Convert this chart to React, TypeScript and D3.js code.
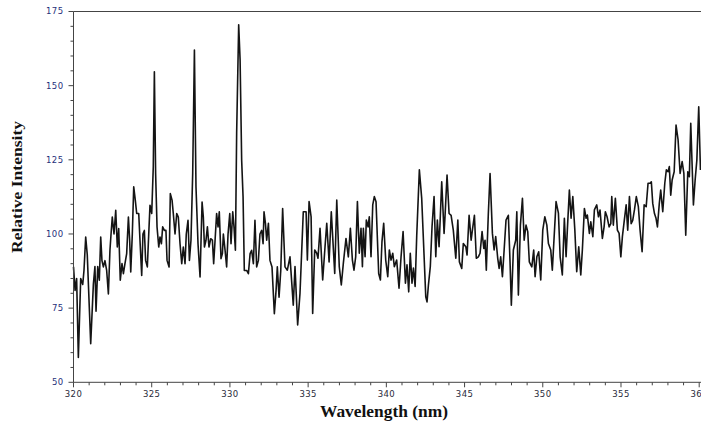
import React from "react";
import * as d3 from "d3";

const wavelengths: number[] = [
  320.0, 320.1, 320.2, 320.31, 320.46, 320.59, 320.67, 320.78, 320.88, 321.1,
  321.27, 321.37, 321.44, 321.55, 321.65, 321.74, 321.82, 321.91, 322.01, 322.12,
  322.23, 322.33, 322.4, 322.48, 322.59, 322.7, 322.8, 322.89, 322.99, 323.1,
  323.19, 323.29, 323.4, 323.51, 323.59, 323.66, 323.76, 323.85, 323.95, 324.04,
  324.17, 324.25, 324.36, 324.44, 324.53, 324.61, 324.72, 324.81, 324.89, 325.0,
  325.1, 325.17, 325.25, 325.34, 325.45, 325.53, 325.62, 325.7, 325.81, 325.91,
  325.98, 326.11, 326.19, 326.3, 326.38, 326.49, 326.6, 326.7, 326.81, 326.92,
  327.02, 327.13, 327.21, 327.32, 327.41, 327.51, 327.62, 327.73, 327.83, 327.96,
  328.09, 328.22, 328.3, 328.37, 328.47, 328.56, 328.66, 328.77, 328.88, 328.96,
  329.05, 329.15, 329.24, 329.32, 329.43, 329.52, 329.58, 329.69, 329.79, 329.88,
  329.99, 330.07, 330.18, 330.26, 330.35, 330.43, 330.56, 330.65, 330.75, 330.84,
  330.92, 331.07, 331.18, 331.29, 331.39, 331.5, 331.6, 331.71, 331.82, 331.92,
  332.03, 332.12, 332.18, 332.27, 332.35, 332.46, 332.56, 332.69, 332.84, 332.95,
  333.03, 333.14, 333.25, 333.37, 333.52, 333.67, 333.84, 334.05, 334.16, 334.33,
  334.48, 334.69, 334.87, 334.95, 335.06, 335.19, 335.29, 335.42, 335.55, 335.63,
  335.76, 335.93, 336.08, 336.19, 336.34, 336.48, 336.7, 336.83, 336.99, 337.12,
  337.25, 337.42, 337.57, 337.7, 337.83, 337.93, 338.04, 338.15, 338.27, 338.38,
  338.47, 338.53, 338.64, 338.72, 338.83, 338.91, 339.02, 339.13, 339.23, 339.34,
  339.51, 339.62, 339.72, 339.83, 339.96, 340.09, 340.19, 340.3, 340.41, 340.51,
  340.66, 340.81, 340.94, 341.07, 341.22, 341.32, 341.43, 341.53, 341.64, 341.73,
  341.84, 341.94, 342.11, 342.26, 342.37, 342.52, 342.6, 342.69, 342.81, 342.92,
  343.05, 343.16, 343.26, 343.37, 343.54, 343.69, 343.75, 343.88, 344.01, 344.14,
  344.28, 344.44, 344.57, 344.67, 344.82, 344.92, 345.08, 345.16, 345.29, 345.42,
  345.5, 345.63, 345.75, 345.88, 345.99, 346.12, 346.23, 346.31, 346.39, 346.52,
  346.63, 346.78, 346.89, 346.99, 347.12, 347.21, 347.31, 347.42, 347.53, 347.65,
  347.8, 347.91, 347.99, 348.12, 348.27, 348.34, 348.44, 348.57, 348.7, 348.81,
  348.93, 349.04, 349.14, 349.3, 349.42, 349.51, 349.62, 349.74, 349.87, 350.0,
  350.13, 350.26, 350.36, 350.51, 350.61, 350.85, 351.0, 351.11, 351.25, 351.38,
  351.49, 351.57, 351.7, 351.81, 351.92, 352.05, 352.17, 352.3, 352.43, 352.53,
  352.66, 352.77, 352.85, 352.98, 353.07, 353.2, 353.3, 353.45, 353.56, 353.66,
  353.81, 353.92, 354.0, 354.11, 354.24, 354.35, 354.41, 354.51, 354.64, 354.77,
  354.88, 354.99, 355.09, 355.2, 355.33, 355.43, 355.54, 355.65, 355.75, 355.86,
  355.98, 356.11, 356.22, 356.35, 356.48, 356.61, 356.73, 356.86, 356.94, 357.03,
  357.14, 357.24, 357.33, 357.45, 357.54, 357.67, 357.8, 357.9, 358.01, 358.09,
  358.18, 358.27, 358.4, 358.52, 358.65, 358.78, 358.91, 359.02, 359.14, 359.27,
  359.37, 359.46, 359.63, 359.74, 359.85, 359.97, 360.08,
];

const intensities: number[] = [
  88.9, 81, 85, 58.4, 85, 83, 87.7, 99, 93, 63,
  83, 89, 74, 89, 84.4, 99, 91, 88.9, 91, 87.7,
  79.8, 94.5, 100, 105.7, 100, 108, 95.6, 101.8, 84.4, 90,
  86.6, 90, 93.4, 105.7, 97.9, 87.2, 100, 115.9, 111.4, 106.9,
  106.9, 97.9, 86, 100, 101.2, 91.1, 88.9, 100, 109.7, 106.9,
  122.6, 154.7, 120.4, 102.4, 95.6, 99, 96.7, 102.4, 101.2, 101.2,
  91.1, 88.9, 113.6, 111.4, 106.9, 100, 106.9, 105.7, 96.7, 90,
  95.6, 90, 100, 104.6, 91.1, 97.9, 120.4, 162, 115.9, 96.7,
  85.5, 110.8, 105.7, 95.6, 97.9, 102.4, 95.6, 98.4, 97.9, 90,
  97.9, 106.9, 102.4, 107.5, 91.7, 93.4, 100, 94.5, 88.9, 100,
  106.9, 96.7, 107.5, 102.4, 94.5, 133.9, 170.5, 158.7, 124.9, 112.5,
  87.7, 87.7, 86.6, 93.4, 94.5, 90, 104.6, 88.9, 91.1, 100,
  101.2, 96.7, 107.5, 103.6, 97.9, 103.6, 91.1, 88.9, 73.1, 81,
  88.9, 78.7, 87.7, 108.6, 88.9, 87.8, 92.3, 76, 89, 69.3,
  80, 107.5, 107.5, 91.2, 110.9, 105.8, 73.2, 94.6, 93.5, 91.8,
  101.9, 84.5, 95.7, 103.6, 90.6, 107.5, 86.7, 111.4, 89, 82.8,
  90.1, 98.5, 92.3, 101.9, 91.2, 87.8, 92.3, 110.9, 93.5, 101.9,
  89, 101.9, 92.3, 104.7, 102.4, 105.8, 92.3, 109.8, 112.6, 110.9,
  86.7, 84.5, 97.4, 103.6, 91.2, 85.6, 94.6, 91.2, 93.5, 89,
  91.2, 81.7, 92.3, 100.8, 83.4, 89.6, 80.5, 93.5, 83.4, 88.5,
  82.3, 99.1, 121.6, 112, 98, 78.8, 77.1, 82.8, 89, 102.4,
  112.6, 92.3, 104.7, 95.7, 117.6, 100.2, 105.8, 119.9, 106.9, 106.3,
  101.3, 91.8, 104.7, 90.6, 88.4, 96.8, 95.7, 92.9, 106.3, 97.9,
  101.3, 106.3, 91.8, 92.3, 93.5, 100.8, 95.1, 97.9, 87.8, 106.9,
  120.4, 100.2, 94.6, 99.1, 91.8, 88.4, 92.3, 85.6, 94.6, 104.7,
  106.3, 90.1, 76, 94.6, 97.9, 107.5, 79.4, 103, 112, 97.9,
  103, 100.8, 90.6, 88.9, 94.6, 85.6, 92.3, 94, 84.5, 101.3,
  105.8, 103, 96.8, 94.6, 87.8, 110.9, 107, 92.3, 86.2, 105.3,
  92.3, 101.3, 114.8, 105.3, 112.6, 101.3, 87.3, 95.7, 86.2, 94.6,
  108.6, 105.3, 106.4, 100.2, 104.1, 99.1, 108.1, 109.8, 105.8, 108.1,
  98.5, 102.4, 107.5, 105.8, 102.4, 103.5, 112.6, 103, 112, 101.3,
  100.2, 92.3, 99.1, 104.1, 109.8, 101.3, 112.6, 103.5, 104.6, 108.1,
  112.6, 109.2, 101.3, 94, 109.8, 109.2, 117.1, 117.1, 117.6, 110.3,
  106.9, 105.3, 102.4, 110.3, 114.8, 107.5, 117.1, 121.6, 121, 122.7,
  113.1, 118.2, 121, 136.7, 131.7, 120.4, 124.4, 120.4, 99.6, 121,
  119.3, 137.3, 109.8, 118.2, 124.9, 142.9, 121.6,
];

const xTickValues: number[] = [320, 325, 330, 335, 340, 345, 350, 355, 360];
const yTickValues: number[] = [50, 75, 100, 125, 150, 175];
const xLabel = "Wavelength (nm)";
const yLabel = "Relative Intensity";

export default function App() {
  const W = 701;
  const H = 425;
  const x0 = 73.5;
  const x1 = 699.2;
  const yTop = 11.5;
  const yBot = 382.3;

  const x = d3.scaleLinear().domain([320, 360]).range([x0, x1]);
  const y = d3.scaleLinear().domain([50, 175]).range([yBot, yTop]);

  const pts: [number, number][] = wavelengths.map((w, i) => [w, intensities[i]]);
  const line = d3
    .line<[number, number]>()
    .x((d) => x(d[0]))
    .y((d) => y(d[1]));

  const xMinor = d3.range(320, 361, 1).filter((v) => v % 5 !== 0);
  const yMinor = d3.range(50, 176, 5).filter((v) => v % 25 !== 0);
  const axisColor = "#444";

  return (
    <svg
      width={W}
      height={H}
      style={{ position: "absolute", left: 0, top: 0, background: "#fff" }}
    >
      <path d={line(pts) || ""} fill="none" stroke="#141414" strokeWidth={1.6} strokeLinejoin="round" />

      <line x1={x0} x2={W} y1={yTop} y2={yTop} stroke={axisColor} strokeWidth={1} />
      <line x1={x0} x2={x0} y1={yTop} y2={yBot} stroke={axisColor} strokeWidth={1} />
      <line x1={x0} x2={W} y1={yBot} y2={yBot} stroke={axisColor} strokeWidth={1} />

      {yTickValues.map((v) => (
        <g key={"yt" + v}>
          <line x1={x0 - 5} x2={x0} y1={y(v)} y2={y(v)} stroke={axisColor} strokeWidth={1} />
          <text
            x={x0 - 10}
            y={y(v)}
            dy="0.35em"
            textAnchor="end"
            fontFamily="DejaVu Sans, sans-serif"
            fontSize={8.5}
            letterSpacing={0.4}
            fill="#1f2f7a"
          >
            {v}
          </text>
        </g>
      ))}
      {yMinor.map((v) => (
        <line key={"ym" + v} x1={x0 - 3} x2={x0} y1={y(v)} y2={y(v)} stroke={axisColor} strokeWidth={1} />
      ))}

      {xTickValues.map((v) => (
        <g key={"xt" + v}>
          <line x1={x(v)} x2={x(v)} y1={yBot} y2={yBot + 5} stroke={axisColor} strokeWidth={1} />
          <text
            x={x(v)}
            y={yBot + 14.5}
            textAnchor="middle"
            fontFamily="DejaVu Sans, sans-serif"
            fontSize={8.5}
            letterSpacing={0.4}
            fill="#2a2a3a"
          >
            {v}
          </text>
        </g>
      ))}
      {xMinor.map((v) => (
        <line key={"xm" + v} x1={x(v)} x2={x(v)} y1={yBot} y2={yBot + 3} stroke={axisColor} strokeWidth={1} />
      ))}

      <text
        x={384}
        y={417}
        textAnchor="middle"
        fontFamily="Liberation Serif, serif"
        fontWeight="bold"
        fontSize={16.5}
        textLength={128}
        lengthAdjust="spacingAndGlyphs"
        fill="#111"
      >
        {xLabel}
      </text>
      <text
        transform={`translate(22, ${187}) rotate(-90)`}
        textAnchor="middle"
        fontFamily="Liberation Serif, serif"
        fontWeight="bold"
        fontSize={14.5}
        textLength={132}
        lengthAdjust="spacingAndGlyphs"
        fill="#111"
      >
        {yLabel}
      </text>
    </svg>
  );
}
